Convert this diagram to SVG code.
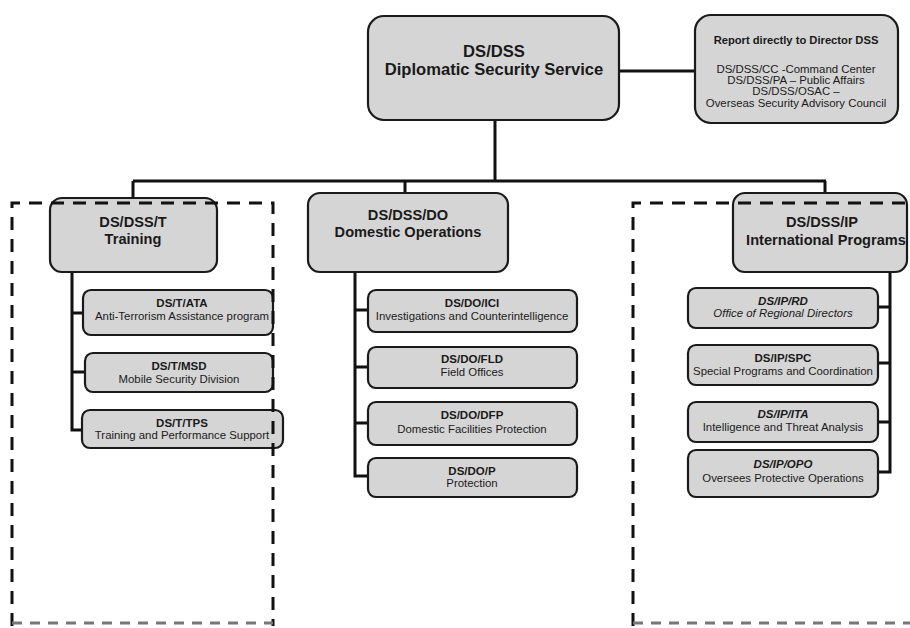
<svg xmlns="http://www.w3.org/2000/svg" width="910" height="628" viewBox="0 0 910 628">
<style>
.bx{fill:#d5d5d5;stroke:#1a1a1a;stroke-width:2.2}
.ln{stroke:#111;stroke-width:3;fill:none}
.dash{stroke:#111;stroke-width:3;fill:none;stroke-dasharray:13 9}
.dashb{stroke:#777;stroke-width:3;fill:none;stroke-dasharray:10 8}
text{font-family:"Liberation Sans",Arial,sans-serif;text-anchor:middle;fill:#1a1a1a}
.t1{font-size:16.6px;font-weight:bold}
.t2{font-size:14.6px;font-weight:bold}
.c1{font-size:11.5px;font-weight:bold}
.c2{font-size:11.4px}
.r1{font-size:11.2px;font-weight:bold}
.r2{font-size:11.4px}
.it{font-style:italic}
</style>
<rect width="910" height="628" fill="#ffffff"/>
<g id="connectors">
<path class="ln" d="M619 71H695"/>
<path class="ln" d="M495 120V181"/>
<path class="ln" d="M133 181H826"/>
<path class="ln" d="M133 181V198"/>
<path class="ln" d="M405 181V193"/>
<path class="ln" d="M825 181V193"/>
<path class="ln" d="M72 272V430H83M72 313H83M72 372H85"/>
<path class="ln" d="M355 272V476H368M355 310H368M355 367H368M355 423H368"/>
<path class="ln" d="M890 272V472H878M890 307H878M890 363H878M890 422H878"/>
</g>
<g id="dss">
<rect class="bx" x="368" y="16" width="251" height="104" rx="16"/>
<text class="t1" x="494" y="57">DS/DSS</text>
<text class="t1" x="494" y="75">Diplomatic Security Service</text>
</g>
<g id="report">
<rect class="bx" x="695" y="15" width="203" height="108" rx="16"/>
<text class="r1" x="796" y="44">Report directly to Director DSS</text>
<text class="r2" x="796" y="73">DS/DSS/CC -Command Center</text>
<text class="r2" x="796" y="84">DS/DSS/PA – Public Affairs</text>
<text class="r2" x="796" y="95">DS/DSS/OSAC –</text>
<text class="r2" x="796" y="107">Overseas Security Advisory Council</text>
</g>
<g id="training">
<rect class="bx" x="50" y="198" width="167" height="74" rx="12"/>
<text class="t2" x="133" y="227">DS/DSS/T</text>
<text class="t2" x="133" y="244">Training</text>
</g>
<g id="domestic">
<rect class="bx" x="308" y="193" width="200" height="79" rx="12"/>
<text class="t2" x="408" y="220">DS/DSS/DO</text>
<text class="t2" x="408" y="237">Domestic Operations</text>
</g>
<g id="international">
<rect class="bx" x="733" y="193" width="174" height="79" rx="12"/>
<text class="t2" x="822" y="227">DS/DSS/IP</text>
<text class="t2" x="826" y="245">International Programs</text>
</g>
<g id="t-ata">
<rect class="bx" x="83" y="290" width="190" height="45" rx="8"/>
<text class="c1" x="182" y="307">DS/T/ATA</text>
<text class="c2" x="182" y="320">Anti-Terrorism Assistance program</text>
</g>
<g id="t-msd">
<rect class="bx" x="85" y="353" width="188" height="39" rx="8"/>
<text class="c1" x="179" y="370">DS/T/MSD</text>
<text class="c2" x="179" y="383">Mobile Security Division</text>
</g>
<g id="t-tps">
<rect class="bx" x="82" y="410" width="201" height="38" rx="8"/>
<text class="c1" x="182" y="427">DS/T/TPS</text>
<text class="c2" x="182" y="439">Training and Performance Support</text>
</g>
<g id="do-ici">
<rect class="bx" x="368" y="290" width="209" height="42" rx="8"/>
<text class="c1" x="472" y="307">DS/DO/ICI</text>
<text class="c2" x="472" y="320">Investigations and Counterintelligence</text>
</g>
<g id="do-fld">
<rect class="bx" x="368" y="347" width="209" height="41" rx="8"/>
<text class="c1" x="472" y="363">DS/DO/FLD</text>
<text class="c2" x="472" y="376">Field Offices</text>
</g>
<g id="do-dfp">
<rect class="bx" x="368" y="402" width="209" height="43" rx="8"/>
<text class="c1" x="472" y="419">DS/DO/DFP</text>
<text class="c2" x="472" y="433">Domestic Facilities Protection</text>
</g>
<g id="do-p">
<rect class="bx" x="368" y="458" width="209" height="39" rx="8"/>
<text class="c1" x="472" y="475">DS/DO/P</text>
<text class="c2" x="472" y="487">Protection</text>
</g>
<g id="ip-rd">
<rect class="bx" x="688" y="288" width="190" height="40" rx="8"/>
<text class="c1 it" x="783" y="305">DS/IP/RD</text>
<text class="c2 it" x="783" y="317">Office of Regional Directors</text>
</g>
<g id="ip-spc">
<rect class="bx" x="688" y="345" width="190" height="40" rx="8"/>
<text class="c1" x="783" y="362">DS/IP/SPC</text>
<text class="c2" x="783" y="375">Special Programs and Coordination</text>
</g>
<g id="ip-ita">
<rect class="bx" x="688" y="402" width="190" height="40" rx="8"/>
<text class="c1 it" x="783" y="418">DS/IP/ITA</text>
<text class="c2" x="783" y="431">Intelligence and Threat Analysis</text>
</g>
<g id="ip-opo">
<rect class="bx" x="688" y="450" width="190" height="47" rx="8"/>
<text class="c1 it" x="783" y="468">DS/IP/OPO</text>
<text class="c2" x="783" y="482">Oversees Protective Operations</text>
</g>
<g id="groups">
<path class="dash" d="M12 626V203H273V626"/>
<path class="dashb" d="M12 623H273"/>
<path class="dash" d="M633 626V203H910"/>
<path class="dashb" d="M633 623H910"/>
</g>
</svg>
